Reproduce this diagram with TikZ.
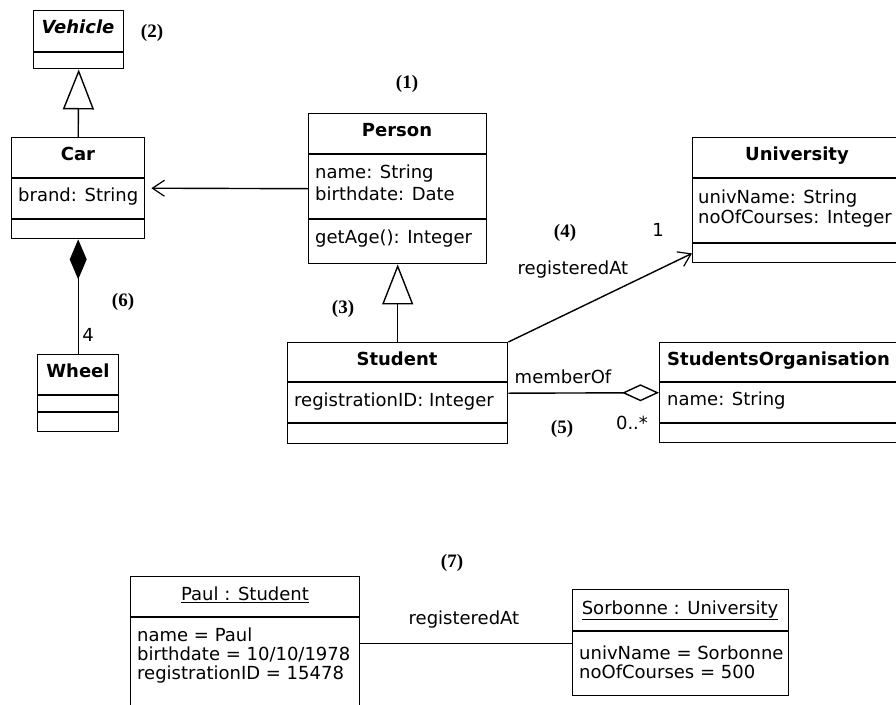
\documentclass[tikz,border=0pt]{standalone}
\usepackage{fontspec}
\usetikzlibrary{arrows.meta,calc}
\newfontfamily\umlfamily{DejaVu Sans}
\newfontfamily\numfamily{Liberation Serif}
\newcommand\umlsize{\umlfamily\fontsize{18}{21}\selectfont}
\newcommand\numsize{\numfamily\bfseries\fontsize{19}{22}\selectfont}
\tikzset{
  cls/.style={draw, line width=1.4pt, inner sep=0pt, anchor=north west},
  div/.style={line width=1.4pt},
  txt/.style={inner sep=0pt, font=\umlsize},
  hdr/.style={inner sep=0pt, font=\umlsize\bfseries, anchor=mid},
  attr/.style={inner sep=0pt, font=\umlsize, anchor=mid west},
  num/.style={inner sep=0pt, font=\numsize, anchor=center},
  conn/.style={line width=1.4pt},
  gen/.style={conn, -{Triangle[open, length=40pt, width=31pt, line width=1.4pt]}},
  comp/.style={conn, -{Diamond[length=40pt, width=17pt]}},
  aggr/.style={conn, -{Diamond[open, length=37pt, width=17pt, line width=1.4pt]}},
  nav/.style={conn, -{Straight Barb[length=12pt, width=16pt, line width=1.2pt]}}
}
\begin{document}
\begin{tikzpicture}[x=1pt, y=-1pt]
\path[use as bounding box, clip] (0,0) rectangle (896,704);
\fill[white] (0,0) rectangle (896,704);

% Vehicle
\node[cls, minimum width=90pt, minimum height=58pt] (vehicle) at (33,10) {};
\draw[div] (vehicle.west |- 0,52) -- (vehicle.east |- 0,52);
\node[hdr, font=\umlsize\bfseries\itshape] (vehiclet) at (78,31) {Vehicle};
\node[num] (n2) at (152,33) {(2)};

% Car
\node[cls, minimum width=133pt, minimum height=101pt] (car) at (11,137) {};
\draw[div] (car.west |- 0,178) -- (car.east |- 0,178);
\draw[div] (car.west |- 0,219) -- (car.east |- 0,219);
\node[hdr] (cart) at (78,158) {Car};
\node[attr] (cara) at (18,199) {brand: String};

% Wheel
\node[cls, minimum width=81pt, minimum height=77pt] (wheel) at (37,354) {};
\draw[div] (wheel.west |- 0,395) -- (wheel.east |- 0,395);
\draw[div] (wheel.west |- 0,412) -- (wheel.east |- 0,412);
\node[hdr] (wheelt) at (78,375) {Wheel};
\node[txt, anchor=mid] (four) at (88,339) {4};
\node[num] (n6) at (123,302) {(6)};

% Person
\node[cls, minimum width=178pt, minimum height=150pt] (person) at (308,113) {};
\draw[div] (person.west |- 0,154) -- (person.east |- 0,154);
\draw[div] (person.west |- 0,219) -- (person.east |- 0,219);
\node[hdr] (persont) at (397,134) {Person};
\node[attr] (persona) at (315,176) {name: String};
\node[attr] (personb) at (315,198) {birthdate: Date};
\node[attr] (personc) at (315,241) {getAge(): Integer};
\node[num] (n1) at (407,84) {(1)};

% Student
\node[cls, minimum width=220pt, minimum height=101pt] (student) at (287,342) {};
\draw[div] (student.west |- 0,382) -- (student.east |- 0,382);
\draw[div] (student.west |- 0,423) -- (student.east |- 0,423);
\node[hdr] (studentt) at (397,363) {Student};
\node[attr] (studenta) at (294,404) {registrationID: Integer};
\node[num] (n3) at (343,309) {(3)};

% University
\node[cls, minimum width=210pt, minimum height=125pt] (univ) at (692,137) {};
\draw[div] (univ.west |- 0,178) -- (univ.east |- 0,178);
\draw[div] (univ.west |- 0,243) -- (univ.east |- 0,243);
\node[hdr] (univt) at (797,158) {University};
\node[attr] (univa) at (698,201) {univName: String};
\node[attr] (univb) at (698,221) {noOfCourses: Integer};

% StudentsOrganisation
\node[cls, minimum width=270pt, minimum height=100pt] (org) at (659,342) {};
\draw[div] (org.west |- 0,382) -- (org.east |- 0,382);
\draw[div] (org.west |- 0,423) -- (org.east |- 0,423);
\node[hdr, anchor=mid west] (orgt) at (667,363) {StudentsOrganisation};
\node[attr] (orga) at (667,403) {name: String};

% Connectors (class diagram)
\draw[gen] (car.north) -- (vehicle.south);
\draw[comp] (wheel.north) -- (car.south);
\draw[nav] (person.west) -- ($(car.east)+(6,0)$);
\draw[gen] (student.north) -- (person.south);
\draw[nav] (student.north east) -- ($(univ.south west)+(0,-10)$);
\draw[aggr] (student.east) -- (org.west);

\node[txt, anchor=mid] (regat) at (573,272) {registeredAt};
\node[txt, anchor=mid] (one) at (658,234) {1};
\node[num] (n4) at (565,233) {(4)};
\node[txt, anchor=mid] (memof) at (563,381) {memberOf};
\node[txt, anchor=mid] (zeromany) at (632,427) {0..*};
\node[num] (n5) at (562,429) {(5)};

% Object diagram
\node[num] (n7) at (452,563) {(7)};
\node[cls, minimum width=229pt, minimum height=134pt] (paul) at (130,576) {};
\draw[div] (paul.west |- 0,617) -- (paul.east |- 0,617);
\node[txt, anchor=mid] (pault) at (245,598) {\underline{Paul : Student}};
\node[attr] (paula) at (137,639) {name = Paul};
\node[attr] (paulb) at (137,658) {birthdate = 10/10/1978};
\node[attr] (paulc) at (137,677) {registrationID = 15478};

\node[cls, minimum width=216pt, minimum height=106pt] (sorb) at (572,589) {};
\draw[div] (sorb.west |- 0,631) -- (sorb.east |- 0,631);
\node[txt, anchor=mid] (sorbt) at (680,612) {\underline{Sorbonne : University}};
\node[attr] (sorba) at (579,657) {univName = Sorbonne};
\node[attr] (sorbb) at (579,676) {noOfCourses = 500};

\draw[conn] (paul.east) -- (paul.east -| sorb.west);
\node[txt, anchor=mid] (regat2) at (464,622) {registeredAt};
\end{tikzpicture}
\end{document}
